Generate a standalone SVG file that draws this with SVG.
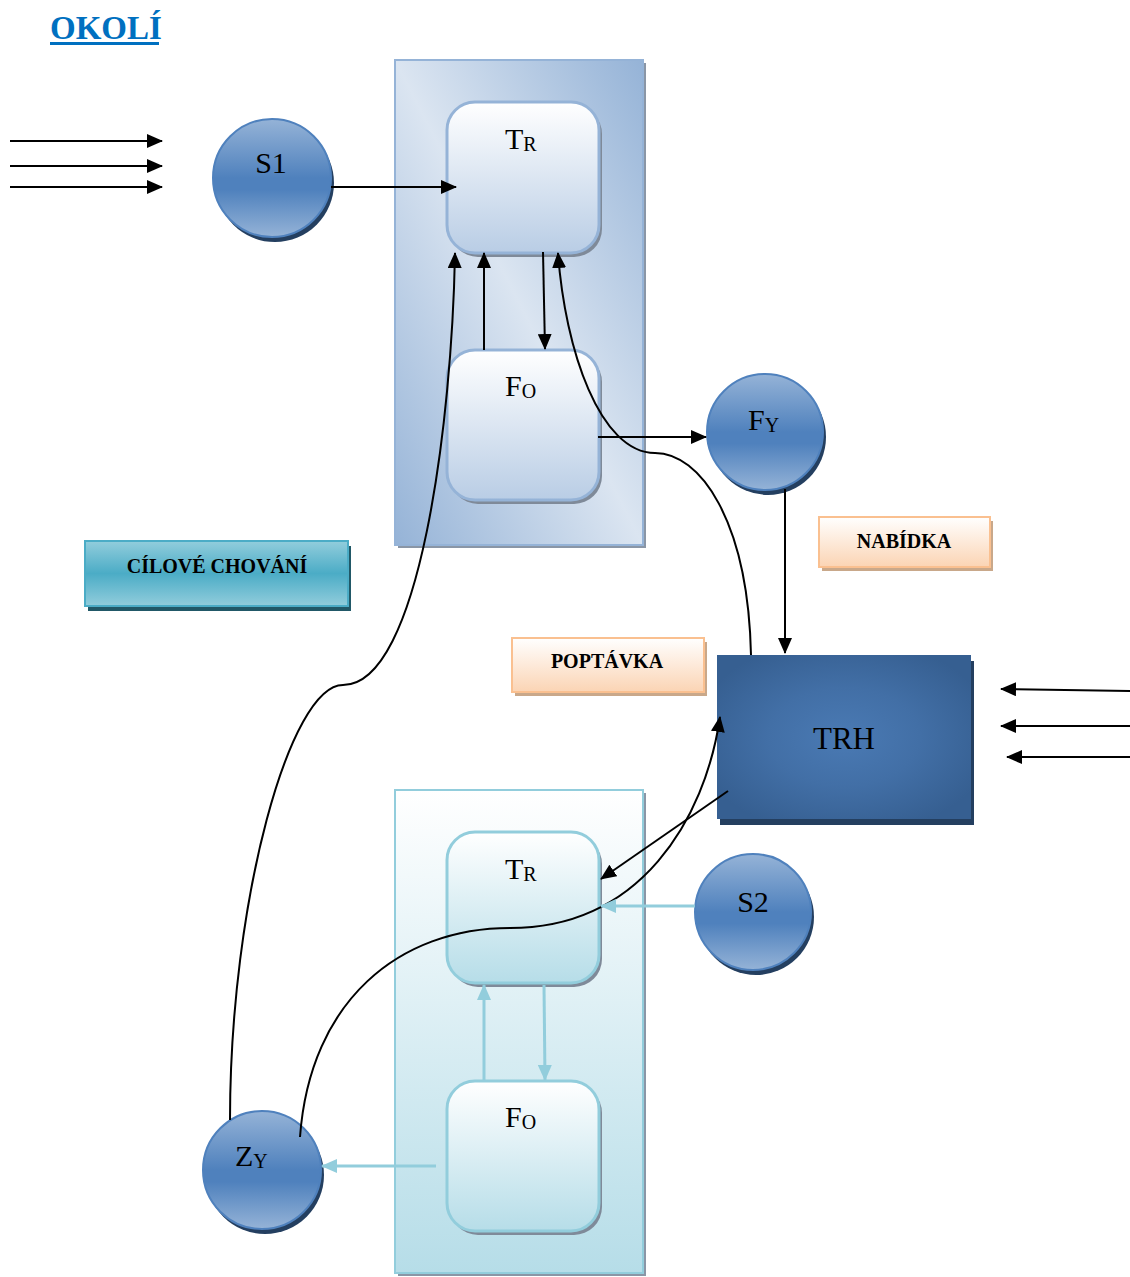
<svg xmlns="http://www.w3.org/2000/svg" width="1130" height="1277" viewBox="0 0 1130 1277">
<defs>
<linearGradient id="gTop" x1="1" y1="0" x2="0" y2="1">
<stop offset="0" stop-color="#95b3d7"/><stop offset="0.5" stop-color="#dbe5f1"/><stop offset="1" stop-color="#95b3d7"/>
</linearGradient>
<linearGradient id="gBot" x1="0" y1="0" x2="0" y2="1">
<stop offset="0" stop-color="#ffffff"/><stop offset="1" stop-color="#b6dde8"/>
</linearGradient>
<linearGradient id="gBoxB" x1="0" y1="0" x2="0" y2="1">
<stop offset="0" stop-color="#ffffff"/><stop offset="1" stop-color="#b9cde5"/>
</linearGradient>
<linearGradient id="gBoxC" x1="0" y1="0" x2="0" y2="1">
<stop offset="0" stop-color="#ffffff"/><stop offset="1" stop-color="#b6dde8"/>
</linearGradient>
<linearGradient id="gCirc" x1="0" y1="0" x2="0" y2="1">
<stop offset="0" stop-color="#95b3d7"/><stop offset="0.5" stop-color="#4f81bd"/><stop offset="0.6" stop-color="#4f81bd"/><stop offset="1" stop-color="#95b3d7"/>
</linearGradient>
<linearGradient id="gOr" x1="0" y1="0" x2="0" y2="1">
<stop offset="0" stop-color="#ffffff"/><stop offset="1" stop-color="#fbd4b4"/>
</linearGradient>
<linearGradient id="gCy" x1="0" y1="0" x2="0" y2="1">
<stop offset="0" stop-color="#92cddc"/><stop offset="0.5" stop-color="#4bacc6"/><stop offset="1" stop-color="#92cddc"/>
</linearGradient>
<radialGradient id="gTrh" cx="0.5" cy="0.5" r="0.6">
<stop offset="0" stop-color="#4a7ab4"/><stop offset="0.5" stop-color="#426fa6"/><stop offset="1" stop-color="#365f91"/>
</radialGradient>
<marker id="ab" markerWidth="16" markerHeight="14" refX="15" refY="7" orient="auto" markerUnits="userSpaceOnUse">
<path d="M0,0 L16,7 L0,14 Z" fill="#000"/>
</marker>
<marker id="ac" markerWidth="16" markerHeight="14" refX="15" refY="7" orient="auto" markerUnits="userSpaceOnUse">
<path d="M0,0 L16,7 L0,14 Z" fill="#92cddc"/>
</marker>
</defs>
<style>
text{font-family:"Liberation Serif","Times New Roman",serif;fill:#000}
.lbl{font-size:30px}
.sub{font-size:20px}
.bold{font-weight:bold;font-size:20px}
.k{stroke:#000;stroke-width:2;fill:none}
.c{stroke:#92cddc;stroke-width:3;fill:none}
.circ{fill:url(#gCirc);stroke:#4f81bd;stroke-width:2}
.csh{fill:#243f60}
.rb{fill:url(#gBoxB);stroke:#95b3d7;stroke-width:3}
.rc{fill:url(#gBoxC);stroke:#92cddc;stroke-width:3}
.sh{fill:#7f8a99}
</style>
<rect width="1130" height="1277" fill="#fff"/>

<g id="title">
<text x="50" y="39" style="font-size:33px;font-weight:bold;fill:#0070c0">OKOLÍ</text>
<rect x="50" y="42" width="109" height="3" fill="#0070c0"/>
</g>

<g id="container-top">
<rect x="398" y="63" width="248" height="485" fill="#8a96a6"/>
<rect x="395" y="60" width="248" height="485" fill="url(#gTop)" stroke="#95b3d7" stroke-width="2"/>
</g>
<g id="container-bottom">
<rect x="398" y="793" width="248" height="483" fill="#8a96a6"/>
<rect x="395" y="790" width="248" height="483" fill="url(#gBot)" stroke="#92cddc" stroke-width="2"/>
</g>

<g id="tr-top">
<rect x="450" y="106" width="152" height="151" rx="28" class="sh"/>
<rect x="447" y="102" width="152" height="151" rx="28" class="rb"/>
<text x="505" y="149" class="lbl">T<tspan class="sub" dy="2">R</tspan></text>
</g>
<g id="fo-top">
<rect x="450" y="354" width="152" height="150" rx="28" class="sh"/>
<rect x="447" y="350" width="152" height="150" rx="28" class="rb"/>
<text x="505" y="396" class="lbl">F<tspan class="sub" dy="2">O</tspan></text>
</g>
<g id="tr-bottom">
<rect x="450" y="836" width="152" height="151" rx="28" class="sh"/>
<rect x="447" y="832" width="152" height="151" rx="28" class="rc"/>
<text x="505" y="879" class="lbl">T<tspan class="sub" dy="2">R</tspan></text>
</g>
<g id="fo-bottom">
<rect x="450" y="1085" width="152" height="150" rx="28" class="sh"/>
<rect x="447" y="1081" width="152" height="150" rx="28" class="rc"/>
<text x="505" y="1127" class="lbl">F<tspan class="sub" dy="2">O</tspan></text>
</g>

<g id="s1">
<circle cx="275" cy="183" r="59" class="csh"/>
<circle cx="272" cy="178" r="59" class="circ"/>
<text x="271" y="173" class="lbl" text-anchor="middle">S1</text>
</g>
<g id="fy">
<circle cx="768" cy="437" r="58" class="csh"/>
<circle cx="765" cy="432" r="58" class="circ"/>
<text x="748" y="430" class="lbl">F<tspan class="sub" dy="2">Y</tspan></text>
</g>
<g id="s2">
<circle cx="756" cy="917" r="58" class="csh"/>
<circle cx="753" cy="912" r="58" class="circ"/>
<text x="753" y="912" class="lbl" text-anchor="middle">S2</text>
</g>
<g id="zy">
<circle cx="265" cy="1175" r="59" class="csh"/>
<circle cx="262" cy="1170" r="59" class="circ"/>
<text x="235" y="1166" class="lbl">Z<tspan class="sub" dy="2">Y</tspan></text>
</g>

<g id="trh">
<rect x="720" y="661" width="254" height="164" fill="#243f60"/>
<rect x="717" y="655" width="254" height="164" fill="url(#gTrh)"/>
<text x="844" y="749" style="font-size:31px" text-anchor="middle">TRH</text>
</g>

<g id="nabidka">
<rect x="822" y="521" width="171" height="50" fill="#c9a88a"/>
<rect x="819" y="517" width="171" height="50" fill="url(#gOr)" stroke="#fac090" stroke-width="2"/>
<text x="904" y="548" class="bold" text-anchor="middle">NABÍDKA</text>
</g>
<g id="poptavka">
<rect x="515" y="642" width="192" height="54" fill="#c9a88a"/>
<rect x="512" y="638" width="192" height="54" fill="url(#gOr)" stroke="#fac090" stroke-width="2"/>
<text x="607" y="668" class="bold" text-anchor="middle">POPTÁVKA</text>
</g>
<g id="cilove">
<rect x="88" y="546" width="263" height="65" fill="#215867"/>
<rect x="85" y="541" width="263" height="65" fill="url(#gCy)" stroke="#4bacc6" stroke-width="2"/>
<text x="217" y="573" class="bold" text-anchor="middle">CÍLOVÉ CHOVÁNÍ</text>
</g>

<g id="connectors">
<line x1="10" y1="141" x2="162" y2="141" class="k" marker-end="url(#ab)"/>
<line x1="10" y1="166" x2="162" y2="166" class="k" marker-end="url(#ab)"/>
<line x1="10" y1="187" x2="162" y2="187" class="k" marker-end="url(#ab)"/>
<line x1="331" y1="187" x2="456" y2="187" class="k" marker-end="url(#ab)"/>
<line x1="484" y1="350" x2="484" y2="253" class="k" marker-end="url(#ab)"/>
<line x1="543" y1="252" x2="545" y2="349" class="k" marker-end="url(#ab)"/>
<line x1="598" y1="437" x2="706" y2="437" class="k" marker-end="url(#ab)"/>
<line x1="785" y1="489" x2="785" y2="653" class="k" marker-end="url(#ab)"/>
<line x1="1130" y1="691" x2="1001" y2="689" class="k" marker-end="url(#ab)"/>
<line x1="1130" y1="726" x2="1001" y2="726" class="k" marker-end="url(#ab)"/>
<line x1="1130" y1="757" x2="1007" y2="757" class="k" marker-end="url(#ab)"/>
<line x1="728" y1="791" x2="601" y2="879" class="k" marker-end="url(#ab)"/>
<path d="M230,1120 C230,900 290,685 343,685 C420,685 452,420 455,253" class="k" marker-end="url(#ab)"/>
<path d="M751,655 C748,520 700,453 655,453 C600,453 565,350 558,253" class="k" marker-end="url(#ab)"/>
<path d="M300,1137 C310,1000 400,928 510,928 C640,928 705,820 720,717" class="k" marker-end="url(#ab)"/>
<line x1="695" y1="906" x2="601" y2="906" class="c" marker-end="url(#ac)"/>
<line x1="484" y1="1081" x2="484" y2="985" class="c" marker-end="url(#ac)"/>
<line x1="544" y1="985" x2="545" y2="1080" class="c" marker-end="url(#ac)"/>
<line x1="436" y1="1166" x2="322" y2="1166" class="c" marker-end="url(#ac)"/>
</g>
</svg>
